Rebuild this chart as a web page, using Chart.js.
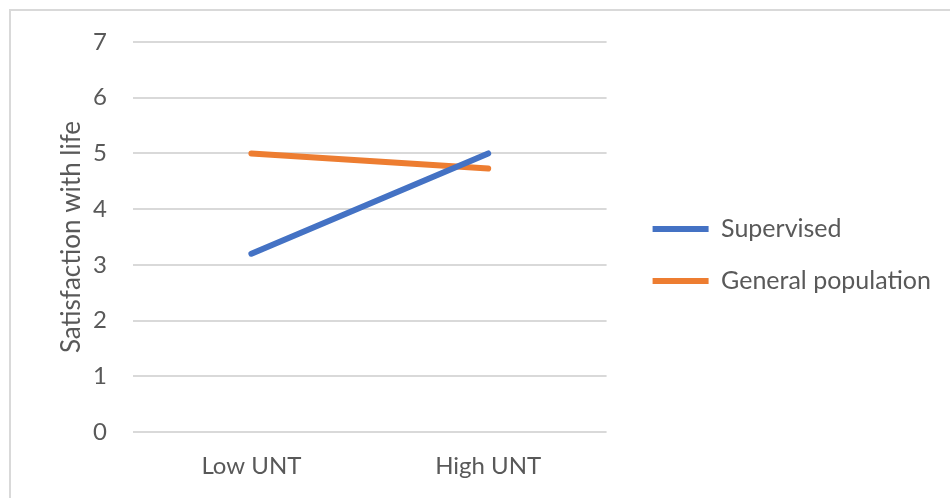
<!DOCTYPE html>
<html>
<head>
<meta charset="utf-8">
<script src="https://cdn.jsdelivr.net/npm/chart.js@4/dist/chart.umd.min.js"></script>
<style>
  html, body { margin: 0; padding: 0; background: #ffffff; }
  #frame {
    position: absolute; left: 9px; top: 9px; width: 960px; height: 500px;
    border-left: 2px solid #d9d9d9; border-top: 2px solid #d9d9d9;
  }
  #chart { position: absolute; left: 0; top: 0; }
</style>
</head>
<body>
<div id="frame"></div>
<canvas id="chart" width="950" height="498"></canvas>
<script>
// Satisfaction with life by level of UNT
const categories = ['Low UNT', 'High UNT'];
const supervised = [3.2, 5.0];
const generalPopulation = [5.0, 4.73];
const seriesNames = ['Supervised', 'General population'];
const yTicks = [0, 1, 2, 3, 4, 5, 6, 7];
const yTitle = 'Satisfaction with life';

const textColor = '#595959';
const gridColor = '#d9d9d9';
const family = 'Lato, "Open Sans", sans-serif';

// empty spacer axis: only reserves room beside the plot
const spacer = (position, size) => ({
  type: 'linear',
  position: position,
  display: true,
  grid: { display: false },
  border: { display: false },
  ticks: { display: false },
  afterFit: s => {
    if (s.isHorizontal()) { s.height = size; } else { s.width = size; }
  }
});

new Chart(document.getElementById('chart'), {
  type: 'line',
  data: {
    labels: categories,
    datasets: [
      {
        label: seriesNames[0],
        data: supervised,
        borderColor: '#4472C4',
        backgroundColor: '#4472C4',
        borderWidth: 6,
        borderCapStyle: 'round',
        pointRadius: 0,
        tension: 0
      },
      {
        label: seriesNames[1],
        data: generalPopulation,
        borderColor: '#ED7D31',
        backgroundColor: '#ED7D31',
        borderWidth: 6,
        borderCapStyle: 'round',
        pointRadius: 0,
        tension: 0
      }
    ]
  },
  options: {
    responsive: false,
    animation: false,
    layout: { padding: { left: 56, top: 29, right: 9, bottom: 17 } },
    plugins: {
      tooltip: { enabled: false },
      legend: {
        position: 'right',
        maxWidth: 330,
        labels: {
          usePointStyle: true,
          pointStyle: 'line',
          pointStyleWidth: 56,
          padding: 27,
          color: textColor,
          font: { family: family, size: 25 }
        }
      }
    },
    scales: {
      x: {
        offset: true,
        grid: { display: false, drawTicks: false },
        border: { display: false },
        ticks: {
          color: textColor,
          padding: 20,
          font: { family: family, size: 24 }
        },
        afterFit: s => { s.height = 49; }
      },
      y: {
        min: 0,
        max: 7,
        afterBuildTicks: s => { s.ticks = yTicks.map(v => ({ value: v })); },
        grid: { color: gridColor, lineWidth: 2, drawTicks: false },
        border: { display: false },
        ticks: {
          color: textColor,
          padding: 26,
          font: { family: family, size: 24 }
        },
        title: {
          display: true,
          text: yTitle,
          color: textColor,
          padding: { top: 0, bottom: 0 },
          font: { family: family, size: 26 }
        },
        afterFit: s => { s.width = 77; }
      },
      gapRight: spacer('right', 19),
      gapTop: spacer('top', 13)
    }
  }
});
</script>
</body>
</html>
